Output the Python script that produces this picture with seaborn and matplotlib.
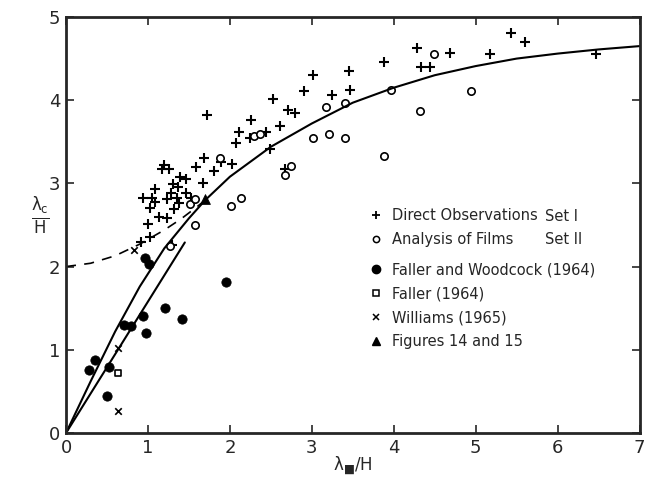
import matplotlib
matplotlib.use("Agg")
import matplotlib.pyplot as plt
from matplotlib.lines import Line2D
import seaborn as sns

# Direct Observations, Set I (+)
direct_x = [0.92, 1.03, 1.00, 1.03, 0.94, 1.05, 1.08, 1.085, 1.14, 1.23, 1.19, 1.26, 1.17,
            1.235, 1.28, 1.30, 1.37, 1.32, 1.36, 1.38, 1.39, 1.46, 1.46, 1.52, 1.29, 1.585,
            1.67, 1.68, 1.81, 1.89, 2.03, 2.08, 1.72, 2.11, 2.26, 2.25, 2.44, 2.49, 2.61,
            2.71, 2.80, 2.67, 2.53, 2.91, 3.02, 3.25, 3.45, 3.47, 3.88, 4.28, 4.33, 4.44,
            4.69, 5.18, 5.43, 5.60, 6.47]
direct_y = [2.29, 2.36, 2.51, 2.70, 2.82, 2.83, 2.78, 2.93, 2.60, 2.58, 3.22, 3.17, 3.17,
            2.81, 2.89, 2.99, 2.96, 2.69, 2.83, 2.76, 3.08, 3.05, 2.89, 2.82, 2.26, 3.20,
            3.00, 3.31, 3.15, 3.26, 3.23, 3.48, 3.82, 3.62, 3.76, 3.54, 3.62, 3.41, 3.69,
            3.88, 3.84, 3.17, 4.01, 4.11, 4.30, 4.06, 4.35, 4.12, 4.46, 4.63, 4.40, 4.40,
            4.57, 4.56, 4.81, 4.70, 4.56]

# Analysis of Films, Set II (o)
films_x = [1.27, 1.51, 1.57, 1.58, 1.88, 2.01, 2.14, 2.30, 2.37, 2.67, 2.75, 3.02, 3.21,
           3.41, 3.17, 3.41, 3.88, 3.97, 4.32, 4.49, 4.94]
films_y = [2.25, 2.75, 2.81, 2.50, 3.30, 2.73, 2.83, 3.57, 3.59, 3.10, 3.21, 3.55, 3.59,
           3.55, 3.92, 3.97, 3.33, 4.12, 3.87, 4.56, 4.11]

# Faller and Woodcock (1964)
fw_x = [0.28, 0.35, 0.52, 0.50, 0.71, 0.79, 0.94, 0.98, 1.21, 1.42, 0.96, 1.01, 1.95]
fw_y = [0.76, 0.88, 0.79, 0.44, 1.30, 1.29, 1.41, 1.20, 1.50, 1.37, 2.10, 2.03, 1.81]

# Faller (1964)
faller_x = [0.64]
faller_y = [0.72]

# Williams (1965)
williams_x = [0.64, 0.64, 0.83]
williams_y = [1.02, 0.26, 2.20]

# Figures 14 and 15
fig1415_x = [1.70]
fig1415_y = [2.81]

# theoretical curves
curve_x = [0, 0.3, 0.6, 0.9, 1.2, 1.5, 1.7, 2.0, 2.5, 3.0, 3.5, 4.0, 4.5, 5.0, 5.5, 6.0, 6.5, 7.0]
curve_y = [0, 0.62, 1.22, 1.76, 2.22, 2.58, 2.80, 3.08, 3.44, 3.72, 3.97, 4.15, 4.30, 4.41,
           4.50, 4.56, 4.61, 4.65]
short_x = [0, 1.45]
short_y = [0, 2.29]
dash_x = [0, 0.3, 0.6, 0.9, 1.2, 1.4, 1.6, 1.7]
dash_y = [2.0, 2.04, 2.13, 2.27, 2.44, 2.57, 2.72, 2.80]

sns.set_style("ticks")
plt.rcParams['font.family'] = ['DejaVu Sans']

fig = plt.figure(figsize=(6.55, 4.84), dpi=100)
ax = fig.add_axes([0.1008, 0.1054, 0.8756, 0.8595])

sns.lineplot(x=curve_x, y=curve_y, ax=ax, color='k', lw=1.5, sort=False, estimator=None)
sns.lineplot(x=short_x, y=short_y, ax=ax, color='k', lw=1.5, sort=False, estimator=None)
sns.lineplot(x=dash_x, y=dash_y, ax=ax, color='k', lw=1.2, sort=False, estimator=None,
             linestyle=(0, (6, 5)))

sns.scatterplot(x=direct_x, y=direct_y, ax=ax, marker='+', s=45, color='k', linewidth=1.5)
sns.scatterplot(x=films_x, y=films_y, ax=ax, marker='o', s=28, fc='white', ec='k', linewidth=1.2)
sns.scatterplot(x=fw_x, y=fw_y, ax=ax, marker='o', s=45, color='k', ec='k')
sns.scatterplot(x=faller_x, y=faller_y, ax=ax, marker='s', s=24, fc='white', ec='k', linewidth=1.2)
sns.scatterplot(x=williams_x, y=williams_y, ax=ax, marker='x', s=22, color='k', linewidth=1.2)
sns.scatterplot(x=fig1415_x, y=fig1415_y, ax=ax, marker='^', s=50, color='k', ec='k')

ax.set_xlim(0, 7)
ax.set_ylim(0, 5)
ax.set_xticks(range(8))
ax.set_yticks(range(6))
ax.tick_params(direction='in', length=6, width=1.2, labelsize=13, top=True, right=True, pad=4)
for s in ax.spines.values():
    s.set_linewidth(2)

ax.set_xlabel('λ' + r'$_{\blacksquare}$' + '/H', fontsize=12, va='center')
ax.xaxis.set_label_coords(0.5, -0.077)
ax.set_ylabel(r'$\frac{\mathrm{\lambda_{c}}}{\mathrm{H}}$', fontsize=17, rotation=0,
              va='center', ha='center')
ax.yaxis.set_label_coords(-0.045, 0.52)

h1 = [Line2D([], [], ls='', marker='+', color='k', ms=6, mew=1.3),
      Line2D([], [], ls='', marker='o', mfc='white', mec='k', ms=4.5, mew=1.1)]
leg1 = ax.legend(h1, ['Direct Observations', 'Analysis of Films'], loc='upper left',
                 bbox_to_anchor=(0.517, 0.558), frameon=False, fontsize=10.5, handlelength=0.8,
                 handletextpad=0.7, labelspacing=0.62, borderpad=0)
ax.add_artist(leg1)
h2 = [Line2D([], [], ls='', marker='o', color='k', ms=6),
      Line2D([], [], ls='', marker='s', mfc='white', mec='k', ms=4.5, mew=1.1),
      Line2D([], [], ls='', marker='x', color='k', ms=4.5, mew=1.1),
      Line2D([], [], ls='', marker='^', color='k', ms=6)]
ax.legend(h2, ['Faller and Woodcock (1964)', 'Faller (1964)', 'Williams (1965)',
               'Figures 14 and 15'], loc='upper left', bbox_to_anchor=(0.517, 0.428),
          frameon=False, fontsize=10.5, handlelength=0.8, handletextpad=0.7,
          labelspacing=0.62, borderpad=0)
ax.text(0.835, 0.5216, 'Set I', transform=ax.transAxes, fontsize=10.5, va='center')
ax.text(0.835, 0.464, 'Set II', transform=ax.transAxes, fontsize=10.5, va='center')

fig.savefig('out.png', dpi=100)
